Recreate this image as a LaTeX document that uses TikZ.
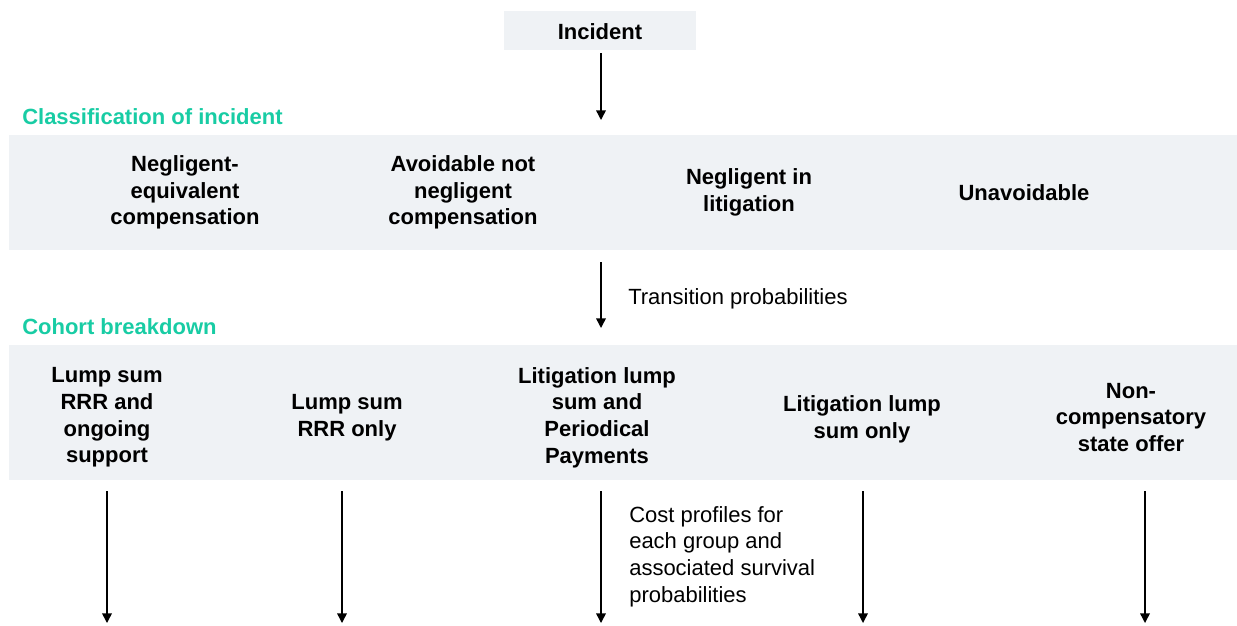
\documentclass[tikz,border=0pt]{standalone}
\usepackage{fontspec}
\setmainfont{Liberation Sans}
\usetikzlibrary{arrows.meta}
\definecolor{bandgrey}{RGB}{239,242,245}
\definecolor{headgreen}{RGB}{24,204,164}
\tikzset{
  band/.style={rectangle, fill=bandgrey, draw=none, inner sep=0pt},
  lbl/.style={font=\fontsize{16.5}{20}\selectfont\bfseries, align=center, inner sep=0pt},
  note/.style={font=\fontsize{16.5}{20}\selectfont, align=left, inner sep=0pt, anchor=west},
  head/.style={font=\fontsize{16.5}{20}\selectfont\bfseries, text=headgreen, inner sep=0pt, anchor=west},
  arr/.style={line width=1.1pt, -{Triangle[width=7.2pt,length=7.2pt]}}
}
\begin{document}
\begin{tikzpicture}[x=0.75pt,y=-0.75pt]
\useasboundingbox (0,0) rectangle (1237,625);
% Incident
\node[band, minimum width=192*0.75pt, minimum height=39*0.75pt] (incident) at (600,30.5) {};
\node[lbl] (incidenttxt) at (600,32) {Incident};
% Classification
\node[head] (classhead) at (22,117) {Classification of incident};
\node[band, minimum width=1228*0.75pt, minimum height=115*0.75pt] (classband) at (623,192.5) {};
\node[lbl] (k1) at (185,192.5) {Negligent-\\equivalent\\compensation};
\node[lbl] (k2) at (463,192.5) {Avoidable not\\negligent\\compensation};
\node[lbl] (k3) at (749,192.5) {Negligent in\\litigation};
\node[lbl] (k4) at (1024,192.5) {Unavoidable};
% Cohort
\node[head] (cohorthead) at (22,327) {Cohort breakdown};
\node[band, minimum width=1228*0.75pt, minimum height=135*0.75pt] (cohortband) at (623,412.5) {};
\node[lbl] (c1) at (107,417.5) {Lump sum\\RRR and\\ongoing\\support};
\node[lbl] (c2) at (347,417.5) {Lump sum\\RRR only};
\node[lbl] (c3) at (597,417.5) {Litigation lump\\sum and\\Periodical\\Payments};
\node[lbl] (c4) at (862,419.5) {Litigation lump\\sum only};
\node[lbl] (c5) at (1131,417.5) {Non-\\compensatory\\state offer};
% arrows
\coordinate (a1s) at (601,53);
\coordinate (a1e) at (601,120);
\draw[arr] (a1s) -- (a1e);
\coordinate (a2s) at (601,262);
\coordinate (a2e) at (601,328);
\draw[arr] (a2s) -- (a2e);
\node[note] (trans) at (628,299) {Transition probabilities};
\foreach \i/\x in {1/107,2/342,3/601,4/863,5/1145}{
  \coordinate (b\i s) at (\x,491);
  \coordinate (b\i e) at (\x,623);
  \draw[arr] (b\i s) -- (b\i e);
}
\node[note] (cost) at (629,556.5) {Cost profiles for\\each group and\\associated survival\\probabilities};
\end{tikzpicture}
\end{document}
